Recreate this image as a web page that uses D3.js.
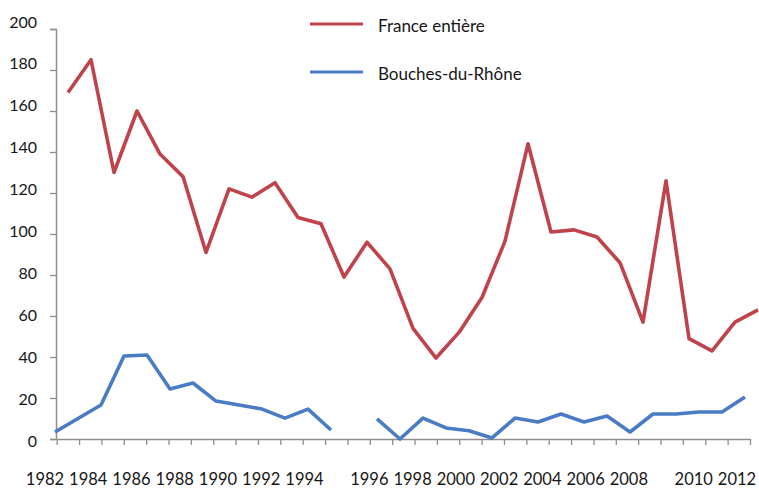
<!DOCTYPE html>
<html>
<head>
<meta charset="utf-8">
<script src="https://cdn.jsdelivr.net/npm/d3@7"></script>
<style>
  html, body { margin: 0; padding: 0; background: #fff; }
  svg { display: block; }
  text { font-family: Lato, "Open Sans", sans-serif; fill: #161616; }
</style>
</head>
<body>
<svg id="chart" width="759" height="491"></svg>
<script>
// ---- data ----
const years = d3.range(1982, 2013);
const franceEntiere = [169, 185, 130, 160, 139, 128, 91, 122, 118, 125, 108, 105, 79, 96, 83, 54, 39.5, 52, 69, 96.5, 144, 101, 102, 98.5, 86, 57, 126, 49, 43, 57, 63];
const bouchesDuRhone = [3.4, 10, 16.6, 40.5, 41, 24.4, 27.3, 18.5, 16.6, 14.6, 10.2, 14.6, 4.4, null, 9.8, 0, 10.2, 5.4, 4, 0.5, 10.2, 8.3, 12.2, 8.3, 11.2, 3.4, 12.2, 12.2, 13.2, 13.2, 20.5];
const yTickValues = [0, 20, 40, 60, 80, 100, 120, 140, 160, 180, 200];
const xTickLabels = ["1982", "", "1984", "", "1986", "", "1988", "", "1990", "", "1992", "", "1994", "", "", "1996", "", "1998", "", "2000", "", "2002", "", "2004", "", "2006", "", "2008", "", "", "2010", "", "2012"];
const seriesNames = ["France entière", "Bouches-du-Rhône"];
const seriesColors = ["#c0434c", "#4a7cc4"];

// ---- layout ----
const svg = d3.select("#chart");
const axisColor = "#8e8e8e";

const y = d3.scaleLinear().domain([0, 200]).range([439, 29]);
const yLabel = d3.scaleLinear().domain([0, 200]).range([440, 21]);
const x = d3.scaleLinear().domain([1982, 2012]).range([55, 745]);
const redShift = 13;
const xTick = d3.scaleLinear().domain([0, 31]).range([56.7, 750]);
const xLab = d3.scalePoint().domain(d3.range(xTickLabels.length)).range([45, 737]);

// y axis
const yAxis = svg.append("g").attr("transform", "translate(56,0)")
  .call(d3.axisLeft(y).tickValues(yTickValues).tickSize(6).tickFormat(""));
yAxis.select(".domain").attr("stroke", axisColor).attr("stroke-width", 1.5);
yAxis.selectAll(".tick line").attr("stroke", axisColor).attr("stroke-width", 1.3);

svg.append("g").selectAll("text").data(yTickValues).join("text")
  .attr("x", 37).attr("y", d => yLabel(d))
  .attr("text-anchor", "end").attr("dominant-baseline", "central")
  .attr("font-size", 16).text(d => d);

// x axis
const xAxis = svg.append("g").attr("transform", "translate(0,439)")
  .call(d3.axisBottom(xTick).tickValues(d3.range(32)).tickSize(6).tickSizeOuter(0).tickFormat(""));
xAxis.select(".domain").attr("stroke", axisColor).attr("stroke-width", 1.5);
xAxis.selectAll(".tick line").attr("stroke", axisColor).attr("stroke-width", 1.3);

svg.append("g").selectAll("text").data(xTickLabels).join("text")
  .attr("x", (d, i) => xLab(i)).attr("y", 479)
  .attr("text-anchor", "middle").attr("dominant-baseline", "central")
  .attr("font-size", 16.5).text(d => d);

// lines
const line = d3.line()
  .defined(d => d.v !== null)
  .x(d => x(d.year))
  .y(d => y(d.v))
  .curve(d3.curveLinear);

const redData = years.map((yr, i) => ({ year: yr, v: franceEntiere[i] }));
const blueData = years.map((yr, i) => ({ year: yr, v: bouchesDuRhone[i] }));

svg.append("path").datum(redData)
  .attr("transform", `translate(${redShift},0)`)
  .attr("fill", "none").attr("stroke", seriesColors[0]).attr("stroke-width", 3.6)
  .attr("stroke-linejoin", "round").attr("d", line);

svg.append("path").datum(blueData)
  .attr("fill", "none").attr("stroke", seriesColors[1]).attr("stroke-width", 3.6)
  .attr("stroke-linejoin", "round").attr("d", line);

// legend
const legend = svg.append("g");
seriesNames.forEach((name, i) => {
  const ly = 24 + i * 48;
  legend.append("line").attr("x1", 310).attr("x2", 363).attr("y1", ly).attr("y2", ly)
    .attr("stroke", seriesColors[i]).attr("stroke-width", 3);
  legend.append("text").attr("x", 378).attr("y", ly + 1).attr("dominant-baseline", "central")
    .attr("font-size", 17).text(name);
});
</script>
</body>
</html>
